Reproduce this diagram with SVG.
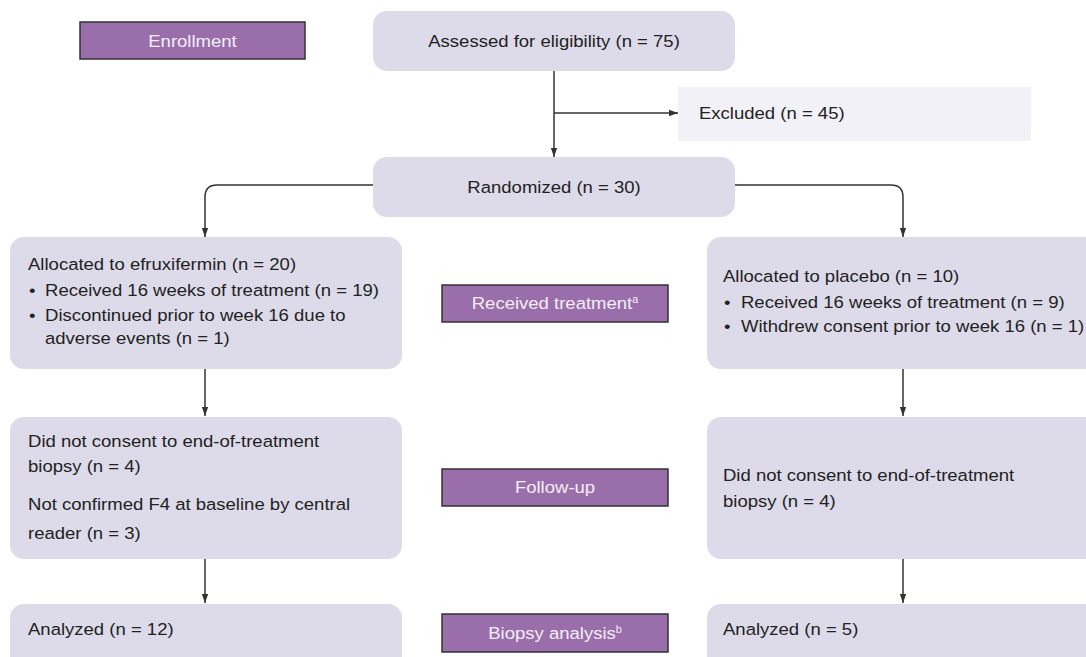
<svg xmlns="http://www.w3.org/2000/svg" width="1086" height="657" viewBox="0 0 1086 657">
<style>
.box{fill:#dddbe9}
.excl{fill:#f2f1f7}
.stage{fill:#9a6eab;stroke:#333;stroke-width:1.5}
.t{font-family:"Liberation Sans",Arial,sans-serif;font-size:17px;fill:#222}
.st{font-family:"Liberation Sans",Arial,sans-serif;font-size:17px;fill:#f4eef7}
.c{fill:none;stroke:#333;stroke-width:1.5}
</style>
<defs>
<marker id="ahd" viewBox="0 0 10 10" refX="10" refY="5" markerWidth="9" markerHeight="9" orient="auto" markerUnits="userSpaceOnUse">
<path d="M0,1.5 L10,5 L0,8.5 z" fill="#333"/>
</marker>
</defs>
<rect width="1086" height="657" fill="#fff"/>

<g id="stage-enrollment"><rect class="stage" x="80" y="22" width="225" height="37"/><text class="st" transform="scale(1.09,1)" x="176.6" y="47" text-anchor="middle">Enrollment</text></g>
<g id="stage-treatment"><rect class="stage" x="442" y="285" width="226" height="37"/><text class="st" transform="scale(1.09,1)" x="509.2" y="309" text-anchor="middle">Received treatment<tspan font-size="10" dy="-6">a</tspan></text></g>
<g id="stage-followup"><rect class="stage" x="442" y="469" width="226" height="37"/><text class="st" transform="scale(1.09,1)" x="509.2" y="493" text-anchor="middle">Follow-up</text></g>
<g id="stage-biopsy"><rect class="stage" x="442" y="614" width="226" height="38"/><text class="st" transform="scale(1.09,1)" x="509.2" y="639" text-anchor="middle">Biopsy analysis<tspan font-size="10" dy="-6">b</tspan></text></g>

<g id="assessed"><rect class="box" x="373" y="11" width="362" height="60" rx="14"/><text class="t" transform="scale(1.09,1)" x="508.3" y="47" text-anchor="middle">Assessed for eligibility (n = 75)</text></g>
<g id="excluded"><rect class="excl" x="678" y="87" width="353" height="54"/><text class="t" transform="scale(1.09,1)" x="641.3" y="119">Excluded (n = 45)</text></g>
<g id="randomized"><rect class="box" x="373" y="157" width="362" height="60" rx="14"/><text class="t" transform="scale(1.09,1)" x="508.3" y="193" text-anchor="middle">Randomized (n = 30)</text></g>

<g id="alloc-efx"><rect class="box" x="10" y="237" width="392" height="132" rx="14"/>
<g class="t" transform="scale(1.09,1)">
<text class="t" x="25.7" y="270">Allocated to efruxifermin (n = 20)</text>
<text class="t" x="26.6" y="296">•</text><text class="t" x="41.3" y="296">Received 16 weeks of treatment (n = 19)</text>
<text class="t" x="26.6" y="321">•</text><text class="t" x="41.3" y="321">Discontinued prior to week 16 due to</text>
<text class="t" x="41.3" y="344">adverse events (n = 1)</text></g></g>

<g id="alloc-pbo"><rect class="box" x="707" y="237" width="400" height="132" rx="14"/>
<g transform="scale(1.09,1)">
<text class="t" x="663.3" y="282">Allocated to placebo (n = 10)</text>
<text class="t" x="664.2" y="308">•</text><text class="t" x="679.8" y="308">Received 16 weeks of treatment (n = 9)</text>
<text class="t" x="664.2" y="332">•</text><text class="t" x="679.8" y="332">Withdrew consent prior to week 16 (n = 1)</text></g></g>

<g id="fu-efx"><rect class="box" x="10" y="417" width="392" height="142" rx="14"/>
<g transform="scale(1.09,1)">
<text class="t" x="25.7" y="447">Did not consent to end-of-treatment</text>
<text class="t" x="25.7" y="472">biopsy (n = 4)</text>
<text class="t" x="25.7" y="510">Not confirmed F4 at baseline by central</text>
<text class="t" x="25.7" y="539">reader (n = 3)</text></g></g>

<g id="fu-pbo"><rect class="box" x="707" y="417" width="400" height="142" rx="14"/>
<g transform="scale(1.09,1)">
<text class="t" x="663.3" y="481">Did not consent to end-of-treatment</text>
<text class="t" x="663.3" y="507">biopsy (n = 4)</text></g></g>

<g id="an-efx"><rect class="box" x="10" y="604" width="392" height="70" rx="14"/><text class="t" transform="scale(1.09,1)" x="25.7" y="635">Analyzed (n = 12)</text></g>
<g id="an-pbo"><rect class="box" x="707" y="604" width="400" height="70" rx="14"/><text class="t" transform="scale(1.09,1)" x="663.3" y="635">Analyzed (n = 5)</text></g>

<g id="connectors">
<path class="c" d="M554,71 V157" marker-end="url(#ahd)"/>
<path class="c" d="M554,113 H678" marker-end="url(#ahd)"/>
<path class="c" d="M373,185 H217 Q205,185 205,197 V237" marker-end="url(#ahd)"/>
<path class="c" d="M735,185 H891 Q903,185 903,197 V237" marker-end="url(#ahd)"/>
<path class="c" d="M205,369 V416" marker-end="url(#ahd)"/>
<path class="c" d="M903,369 V416" marker-end="url(#ahd)"/>
<path class="c" d="M205,559 V603" marker-end="url(#ahd)"/>
<path class="c" d="M903,559 V603" marker-end="url(#ahd)"/>
</g>
</svg>
